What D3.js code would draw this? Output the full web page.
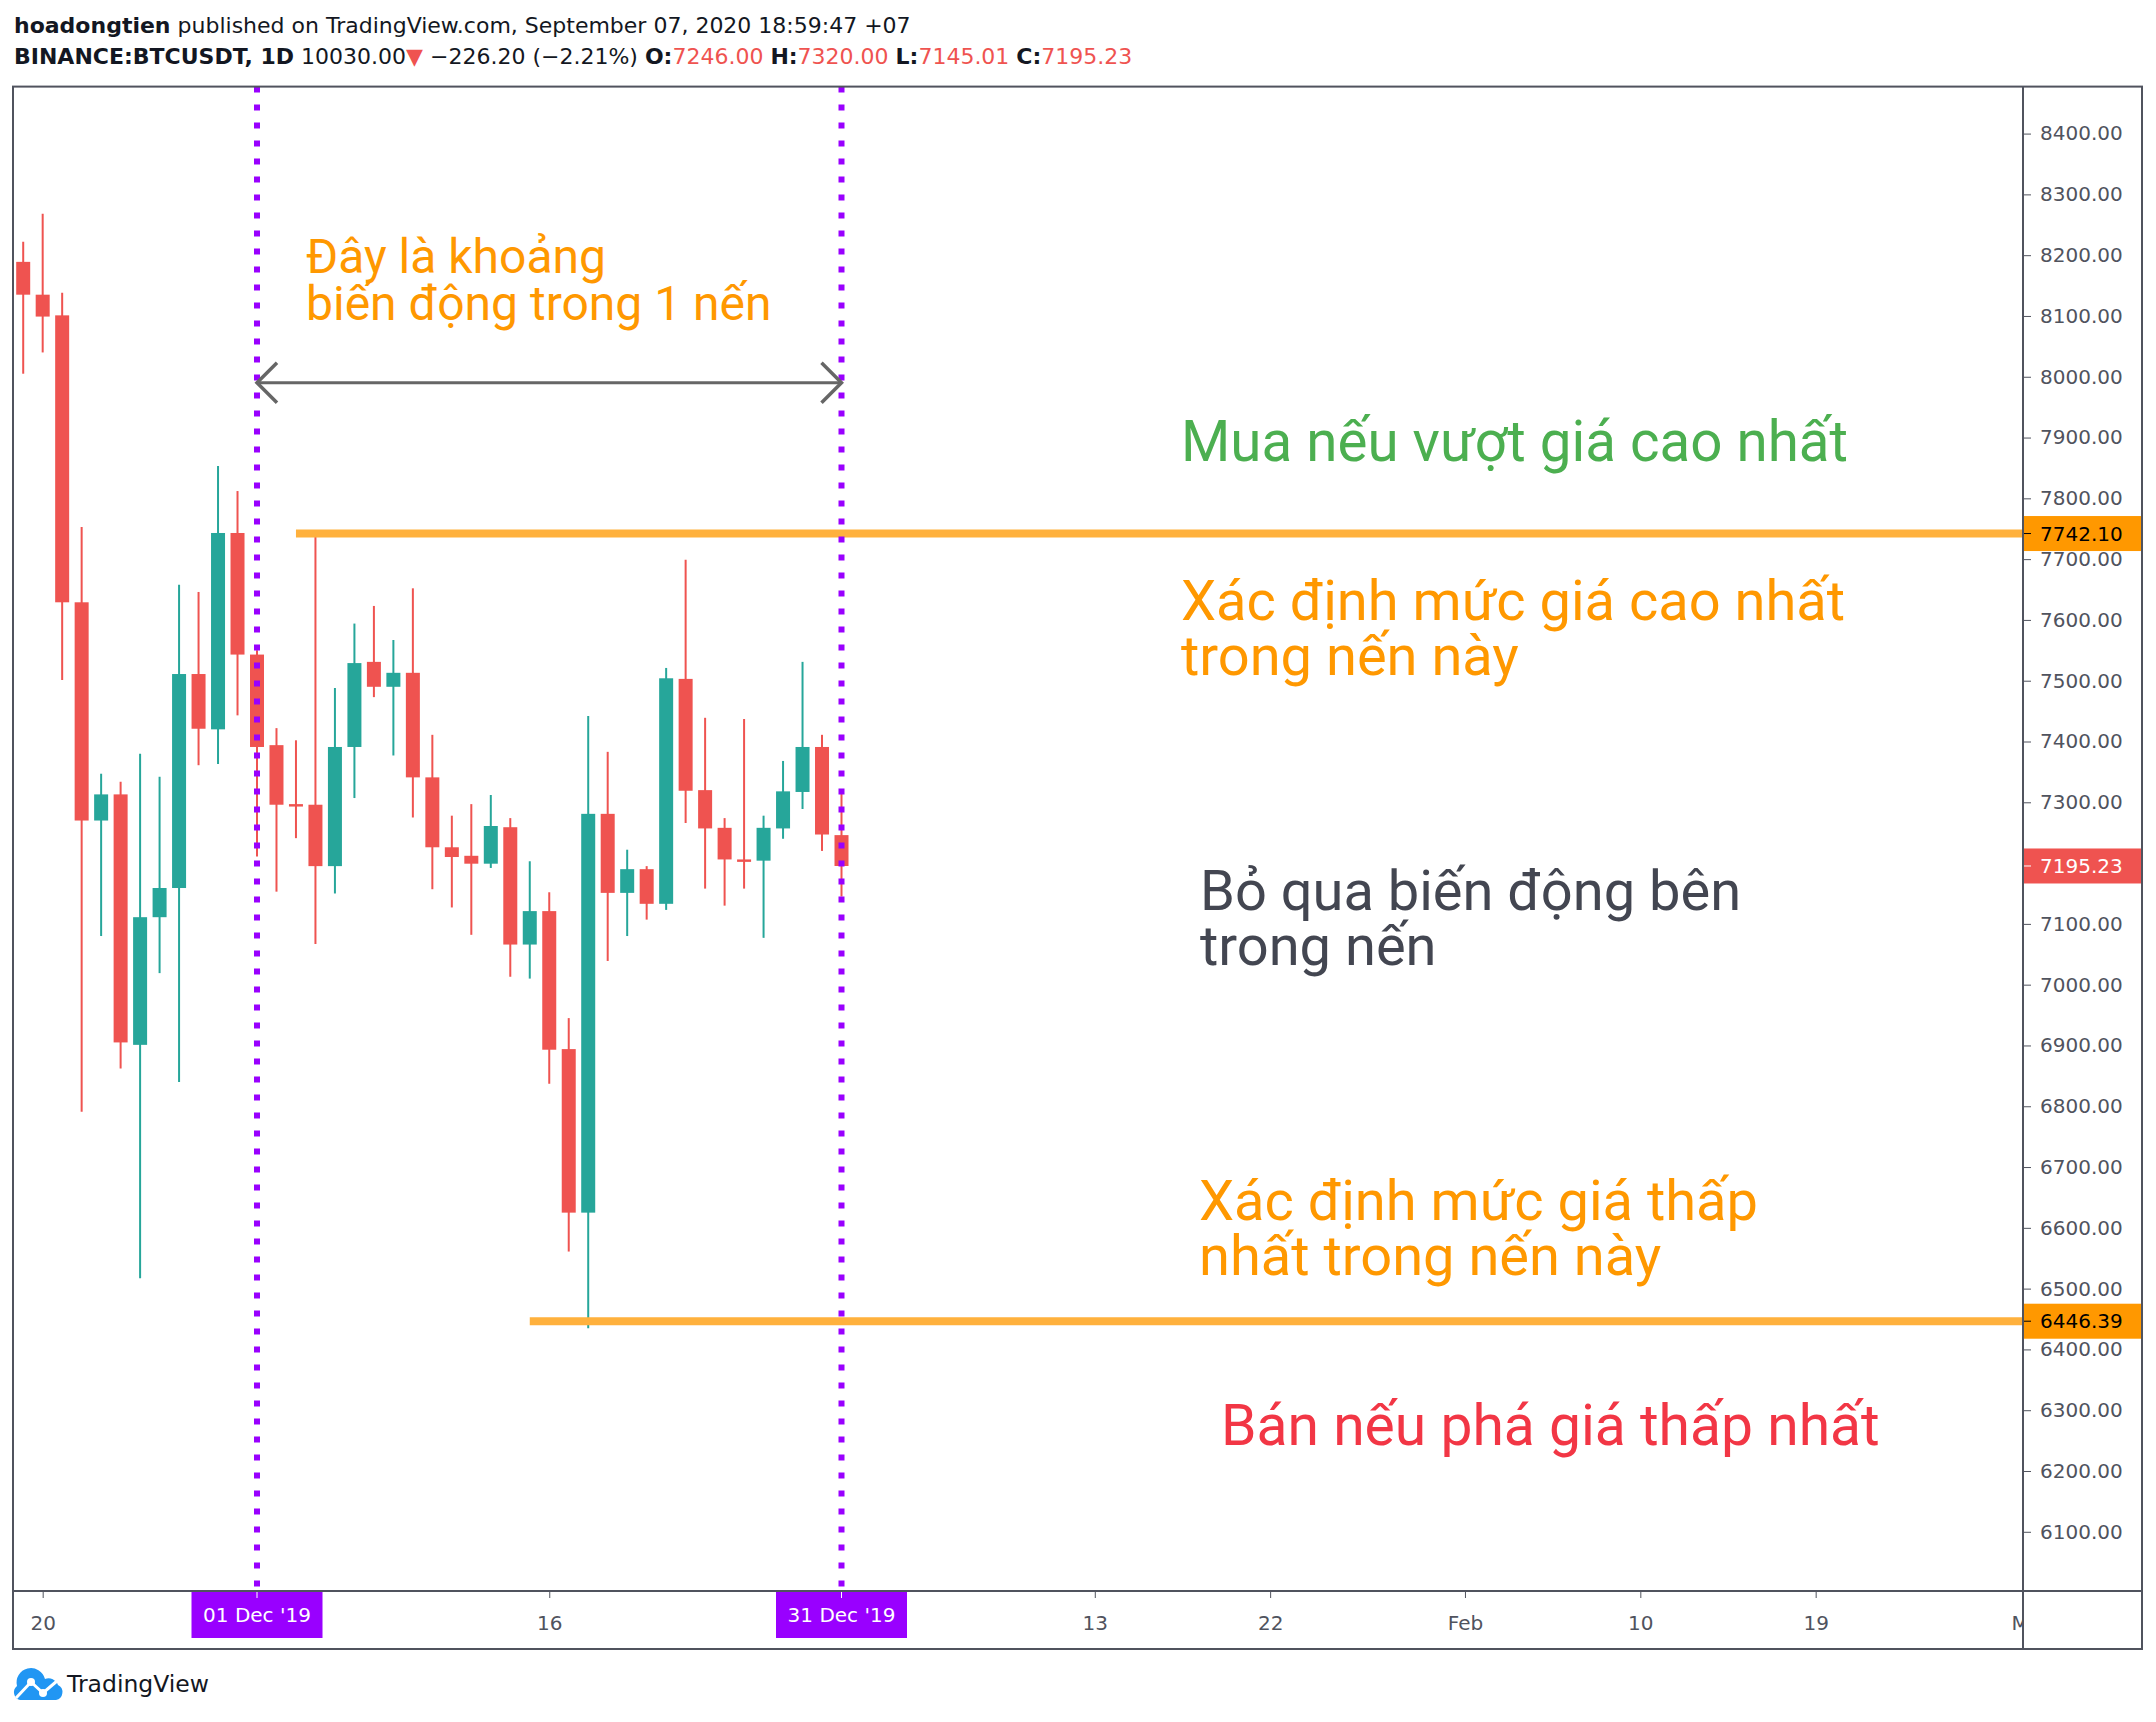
<!DOCTYPE html>
<html>
<head>
<meta charset="utf-8">
<script src="https://cdn.jsdelivr.net/npm/d3@7"></script>
<style>
  body { margin: 0; background: #fff; }
  svg { display: block; }
</style>
</head>
<body>
<div id="chart"></div>
<script>
// daily candles, BINANCE:BTCUSDT 19 Nov 2019 -> 31 Dec 2019
const dates = ["2019-11-19","2019-11-20","2019-11-21","2019-11-22","2019-11-23","2019-11-24","2019-11-25",
  "2019-11-26","2019-11-27","2019-11-28","2019-11-29","2019-11-30","2019-12-01","2019-12-02","2019-12-03",
  "2019-12-04","2019-12-05","2019-12-06","2019-12-07","2019-12-08","2019-12-09","2019-12-10","2019-12-11",
  "2019-12-12","2019-12-13","2019-12-14","2019-12-15","2019-12-16","2019-12-17","2019-12-18","2019-12-19",
  "2019-12-20","2019-12-21","2019-12-22","2019-12-23","2019-12-24","2019-12-25","2019-12-26","2019-12-27",
  "2019-12-28","2019-12-29","2019-12-30","2019-12-31"];
const opens  = [8189,8135,8101,7629,7270,7313,6901,7111,7159,7511,7420,7743,7543,7394,7297,
  7296,7195,7391,7531,7490,7513,7341,7226,7212,7199,7259,7066,7121,6894,6625,7281,
  7151,7190,7133,7503,7320,7258,7206,7204,7257,7317,7391,7246.00];
const highs  = [8222,8268,8138,7753,7347,7334,7380,7342,7658,7646,7853,7812,7550,7422,7402,
  7742.10,7488,7594,7623,7567,7652,7411,7278,7297,7312,7274,7203,7152,6945,7442,7383,
  7222,7195,7521,7699,7439,7274,7437,7278,7368,7531,7411,7320.00];
const lows   = [8005,8040,7501,6791,7080,6862,6517,7019,6840,7361,7363,7443,7211,7153,7241,
  7067,7150,7307,7473,7377,7275,7157,7127,7082,7192,7013,7010,6837,6561,6435,7039,
  7080,7107,7123,7266,7158,7130,7158,7077,7240,7289,7220,7145.01];
const closes = [8135,8099,7629,7270,7313,6905,7111,7159,7511,7421,7743,7543,7391,7296,7293,
  7195,7391,7529,7490,7513,7341,7226,7210,7199,7261,7066,7121,6893,6625,7281,7151,
  7190,7133,7504,7319,7257,7206,7202,7258,7318,7391,7247,7195.23];

// axis ticks
const priceTicks = [6100,6200,6300,6400,6500,6600,6700,6800,6900,7000,7100,7200,
  7300,7400,7500,7600,7700,7800,7900,8000,8100,8200,8300,8400];
const timeTickDates  = ["2019-11-20","2019-12-16","2020-01-13","2020-01-22","2020-02-01","2020-02-10","2020-02-19","2020-03-01"];
const timeTickLabels = ["20","16","13","22","Feb","10","19","Mar"];

// drawings on the chart
const markDates  = ["2019-12-01","2019-12-31"];
const markLabels = ["01 Dec '19","31 Dec '19"];
const levelPrices = [7742.10, 6446.39];
const levelStarts = ["2019-12-03","2019-12-15"];
const rangeArrowPrice = 7990;

const W = 2156, H = 1722;
const plot = {left: 13, top: 86.6, right: 2023, bottom: 1591};
const frameRight = 2142, frameBottom = 1649;
const upCol = "#26a69a", downCol = "#ef5350", axisCol = "#50535e";
const axisFont = "'DejaVu Sans', Verdana, sans-serif";
const noteFont = "Roboto, 'Noto Sans', sans-serif";

const parse = d3.utcParse("%Y-%m-%d");
const candles = dates.map((d, i) => ({date: parse(d), o: opens[i], h: highs[i], l: lows[i], c: closes[i]}));

const svg = d3.select("#chart").append("svg")
  .attr("width", W)
  .attr("height", H)
  .style("font-family", axisFont);

// scales: one day ~19.5px, Dec 1 -> 257, Dec 31 -> 841.5
const xScale = d3.scaleUtc()
  .domain([parse("2019-12-01"), parse("2019-12-31")])
  .range([257, 841.5]);
const yScale = d3.scaleLinear()
  .domain([6002.6, 8477.3])
  .range([plot.bottom, plot.top]);

const defs = svg.append("defs");
defs.append("clipPath").attr("id", "plotClip")
  .append("rect")
    .attr("x", plot.left).attr("y", plot.top)
    .attr("width", plot.right - plot.left).attr("height", plot.bottom - plot.top);
defs.append("clipPath").attr("id", "timeClip")
  .append("rect")
    .attr("x", plot.left).attr("y", plot.bottom)
    .attr("width", plot.right - plot.left).attr("height", frameBottom - plot.bottom);

// ---- header ----
const head1 = svg.append("text").attr("x", 14).attr("y", 33)
  .attr("font-size", 22).attr("fill", "#131722");
head1.append("tspan").attr("font-weight", "bold").text("hoadongtien");
head1.append("tspan").text(" published on TradingView.com, September 07, 2020 18:59:47 +07");

const last = candles[candles.length - 1];
const f2 = d3.format(".2f");
const head2 = svg.append("text").attr("x", 14).attr("y", 64)
  .attr("font-size", 22).attr("fill", "#131722");
head2.append("tspan").attr("font-weight", "bold").text("BINANCE:BTCUSDT, 1D");
head2.append("tspan").text("  10030.00");
head2.append("tspan").attr("fill", downCol).text("▼");
head2.append("tspan").text(" \u2212226.20 (\u22122.21%) ");
[["O:", last.o], ["H:", last.h], ["L:", last.l], ["C:", last.c]].forEach(([k, v]) => {
  head2.append("tspan").attr("font-weight", "bold").text(k);
  head2.append("tspan").attr("fill", downCol).text(f2(v) + " ");
});

// ---- candles ----
const candleG = svg.append("g").attr("clip-path", "url(#plotClip)");
const bodyW = 14;
candleG.selectAll("line.wick").data(candles).join("line")
  .attr("class", "wick")
  .attr("x1", d => xScale(d.date)).attr("x2", d => xScale(d.date))
  .attr("y1", d => yScale(d.h)).attr("y2", d => yScale(d.l))
  .attr("stroke", d => d.c >= d.o ? upCol : downCol)
  .attr("stroke-width", 2);
candleG.selectAll("rect.body").data(candles).join("rect")
  .attr("class", "body")
  .attr("x", d => xScale(d.date) - bodyW / 2)
  .attr("width", bodyW)
  .attr("y", d => yScale(Math.max(d.o, d.c)))
  .attr("height", d => Math.max(2, Math.abs(yScale(d.o) - yScale(d.c))))
  .attr("fill", d => d.c >= d.o ? upCol : downCol);

// ---- drawings ----
const drawG = svg.append("g").attr("clip-path", "url(#plotClip)");

// high / low levels
levelPrices.forEach((p, i) => {
  drawG.append("line")
    .attr("x1", xScale(parse(levelStarts[i]))).attr("x2", plot.right)
    .attr("y1", yScale(p)).attr("y2", yScale(p))
    .attr("stroke", "#ffb13d").attr("stroke-width", 8);
});

// vertical dotted markers
markDates.forEach(d => {
  const x = xScale(parse(d));
  drawG.append("line")
    .attr("x1", x).attr("x2", x)
    .attr("y1", plot.top).attr("y2", plot.bottom)
    .attr("stroke", "#9900ff").attr("stroke-width", 6)
    .attr("stroke-dasharray", "6 12");
});

// date range arrow
const ax0 = xScale(parse(markDates[0])), ax1 = xScale(parse(markDates[1])), ay = yScale(rangeArrowPrice);
drawG.append("line")
  .attr("x1", ax0).attr("x2", ax1).attr("y1", ay).attr("y2", ay)
  .attr("stroke", "#666").attr("stroke-width", 3);
drawG.append("path")
  .attr("d", `M${ax0 + 20},${ay - 20}L${ax0},${ay}L${ax0 + 20},${ay + 20}M${ax1 - 20},${ay - 20}L${ax1},${ay}L${ax1 - 20},${ay + 20}`)
  .attr("fill", "none").attr("stroke", "#666").attr("stroke-width", 3.5);

// text notes
const notes = [
  {lines: ["Đây là khoảng", "biến động trong 1 nến"], x: 306, y: 272.7, size: 48, lh: 47.3, color: "#ff9800"},
  {lines: ["Mua nếu vượt giá cao nhất"], x: 1181, y: 460.7, size: 56.5, lh: 55, color: "#4caf50"},
  {lines: ["Xác định mức giá cao nhất", "trong nến này"], x: 1181, y: 619.5, size: 56, lh: 55, color: "#ff9800"},
  {lines: ["Bỏ qua biến động bên", "trong nến"], x: 1200, y: 909.6, size: 56, lh: 55, color: "#434651"},
  {lines: ["Xác định mức giá thấp", "nhất trong nến này"], x: 1199, y: 1220, size: 56, lh: 55, color: "#ff9800"},
  {lines: ["Bán nếu phá giá thấp nhất"], x: 1221, y: 1444.5, size: 57, lh: 55, color: "#f23645"}
];
notes.forEach(n => {
  const t = drawG.append("text")
    .attr("font-family", noteFont).attr("font-size", n.size).attr("fill", n.color);
  n.lines.forEach((s, i) => {
    t.append("tspan").attr("x", n.x).attr("y", n.y + i * n.lh).text(s);
  });
});

// ---- axes ----
const xAxis = d3.axisBottom(xScale)
  .tickValues(timeTickDates.map(parse))
  .tickFormat((d, i) => timeTickLabels[i])
  .tickSize(6).tickPadding(19);
// outer group carries the clip, inner one the translation
const xAxisG = svg.append("g")
  .attr("clip-path", "url(#timeClip)")
  .append("g")
  .attr("transform", `translate(0,${plot.bottom})`)
  .call(xAxis);
xAxisG.select(".domain").remove();
xAxisG.selectAll(".tick line").attr("stroke", axisCol).attr("transform", "translate(0,1)");
xAxisG.selectAll(".tick text").attr("fill", axisCol).attr("font-size", 20).attr("font-family", axisFont);

const yAxis = d3.axisRight(yScale)
  .tickValues(priceTicks)
  .tickFormat(f2)
  .tickSize(8).tickPadding(9);
const yAxisG = svg.append("g")
  .attr("transform", `translate(${plot.right},0)`)
  .call(yAxis);
yAxisG.select(".domain").remove();
yAxisG.selectAll(".tick line").attr("stroke", axisCol);
yAxisG.selectAll(".tick text").attr("fill", axisCol).attr("font-size", 20).attr("font-family", axisFont);

// price tags on the scale
const tags = [
  {p: levelPrices[0], bg: "#ff9800", fg: "#000"},
  {p: last.c, bg: "#ef5350", fg: "#fff"},
  {p: levelPrices[1], bg: "#ff9800", fg: "#000"}
];
tags.forEach(t => {
  const y = yScale(t.p);
  const g = svg.append("g");
  g.append("rect").attr("x", plot.right).attr("y", y - 17.5)
    .attr("width", frameRight - plot.right).attr("height", 35).attr("fill", t.bg);
  g.append("line").attr("x1", plot.right).attr("x2", plot.right + 8)
    .attr("y1", y).attr("y2", y).attr("stroke", t.fg);
  g.append("text").attr("x", plot.right + 17).attr("y", y).attr("dy", "0.36em")
    .attr("font-size", 20).attr("fill", t.fg).text(f2(t.p));
});

// purple date labels on the time scale
markDates.forEach((d, i) => {
  const x = xScale(parse(d));
  svg.append("rect").attr("x", x - 65.5).attr("y", plot.bottom + 1)
    .attr("width", 131).attr("height", 46).attr("fill", "#9900ff");
  svg.append("line").attr("x1", x).attr("x2", x)
    .attr("y1", plot.bottom + 1).attr("y2", plot.bottom + 7).attr("stroke", "#fff");
  svg.append("text").attr("x", x).attr("y", plot.bottom + 31)
    .attr("text-anchor", "middle").attr("font-size", 20).attr("fill", "#fff")
    .text(markLabels[i]);
});

// ---- frame ----
svg.append("rect")
  .attr("x", plot.left).attr("y", plot.top)
  .attr("width", frameRight - plot.left).attr("height", frameBottom - plot.top)
  .attr("fill", "none").attr("stroke", axisCol).attr("stroke-width", 2);
svg.append("line").attr("x1", plot.right).attr("x2", plot.right)
  .attr("y1", plot.top).attr("y2", frameBottom)
  .attr("stroke", axisCol).attr("stroke-width", 2);
svg.append("line").attr("x1", plot.left).attr("x2", frameRight)
  .attr("y1", plot.bottom).attr("y2", plot.bottom)
  .attr("stroke", axisCol).attr("stroke-width", 2);

// ---- footer logo ----
const logo = svg.append("g");
logo.append("path")
  .attr("d", "M20,1700 A8,8 0 0 1 17,1686 A13,13 0 0 1 45,1679 A10,10 0 0 1 58,1685 A8,8 0 0 1 56,1700 Z")
  .attr("fill", "#2196f3");
logo.append("polyline")
  .attr("points", "16,1698 31,1682 43,1693 57,1681")
  .attr("fill", "none").attr("stroke", "#fff").attr("stroke-width", 3);
[[31, 1682], [43, 1693]].forEach(([cx, cy]) => {
  logo.append("circle").attr("cx", cx).attr("cy", cy).attr("r", 4).attr("fill", "#fff");
});
svg.append("text").attr("x", 67).attr("y", 1692)
  .attr("font-size", 23.5).attr("fill", "#131722").text("TradingView");
</script>
</body>
</html>
